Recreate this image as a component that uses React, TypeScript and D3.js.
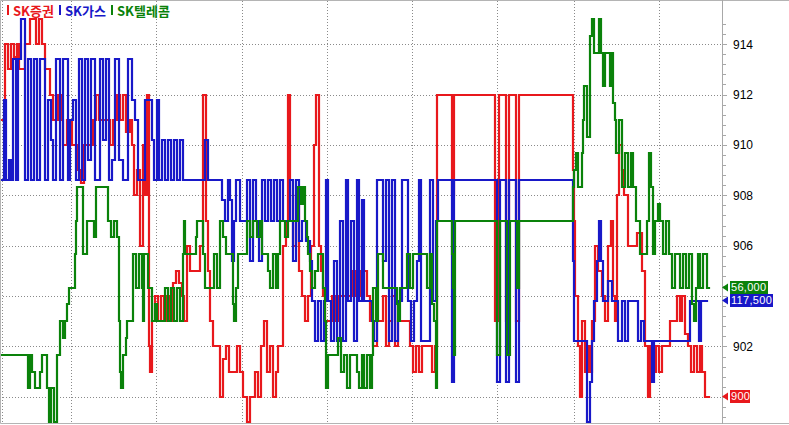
import { useEffect, useRef } from "react";
import * as d3 from "d3";

type Tick = [number, number];

// series legend
const seriesNames = ["SK증권", "SK가스", "SK텔레콤"];
const seriesColors = ["#e8181c", "#1818c8", "#0a820a"];

// vertical separators (time index)
const sessionMarks = [2, 70.5, 156, 242, 326.5, 411.5, 496.5, 574, 659];

// right axis labels (SK증권)
const axisLabels = [900, 902, 904, 906, 908, 910, 912, 914];

// SK증권 : [time, price]
const skSecurities: Tick[] = [
  [2, 911], [5, 914], [8, 913], [11, 914], [14, 913.5], [17, 914], [19, 913], [25, 914],
  [30, 915], [36, 914], [39, 915], [42, 914], [45, 913], [50, 912], [53, 911], [58, 912],
  [61, 911], [63, 910], [67, 911], [72, 910], [78, 909], [81, 908.5], [84, 910], [93, 911],
  [96, 912], [99, 911], [110, 910], [113, 911], [117, 912], [120, 911], [123, 912],
  [126, 910.5], [130, 911], [132, 910], [134, 908], [137, 909], [140, 906], [143, 910],
  [145, 908], [147, 912], [149, 902], [150, 901], [152, 903], [155, 904], [158, 903],
  [161, 904], [164, 903], [167, 904], [170, 903], [173, 904.5], [176, 905], [179, 904.5],
  [182, 904], [184, 903], [187, 906], [190, 905], [200, 906], [203, 912], [206, 907],
  [208, 905], [210, 903], [213, 902], [220, 900], [223, 901.5], [226, 902], [229, 901],
  [237, 902], [240, 901], [243, 900], [247, 899], [250, 900], [255, 901], [258, 900],
  [261, 902], [264, 903], [267, 901], [270, 902], [273, 900], [276, 901], [278, 902],
  [283, 906], [286, 907], [288, 912], [290, 907], [293, 906], [296, 908], [299, 905],
  [302, 904], [305, 903], [308, 904], [311, 906], [314, 910], [316, 912], [319, 906],
  [321, 905], [323, 904], [325, 903], [332, 904], [335, 903], [338, 904], [352, 905],
  [355, 904], [358, 905], [361, 904], [364, 905], [367, 904], [370, 903], [373, 902],
  [377, 903], [383, 904], [386, 902], [389, 903], [392, 904], [395, 902], [398, 903],
  [410, 902], [413, 901], [416, 902], [419, 901], [422, 902], [432, 901], [435, 902],
  [437, 912], [452, 908], [454, 912], [495, 903], [499, 912], [506, 903], [509, 912],
  [516, 903], [519, 912], [573, 909], [574, 907], [575, 904], [578, 902], [580, 900],
  [582, 903], [585, 901], [588, 902], [590, 901], [592, 903], [595, 906], [598, 905],
  [602, 904], [605, 903], [608, 906], [611, 907], [613, 904], [615, 903], [617, 908],
  [619, 910], [622, 909], [624, 908], [628, 906], [637, 906.5], [642, 905], [645, 902],
  [648, 900], [650, 902], [653, 901], [656, 902], [659, 901], [662, 902], [670, 903],
  [677, 904], [680, 903], [682, 904], [685, 902.5], [688, 902], [691, 901], [694, 902],
  [697, 901], [700, 902], [702, 901], [705, 900], [709, 900],
];

// SK가스 : [time, price]
const skGas: Tick[] = [
  [2, 119000], [4, 120000], [6, 119000], [9, 119250], [11, 119000], [13, 120500],
  [16, 119000], [18, 120500], [21, 121000], [25, 119000], [28, 120500], [31, 119000],
  [34, 120500], [37, 119000], [40, 120500], [45, 119000], [48, 120000], [51, 119500],
  [53, 119000], [56, 120500], [60, 119000], [63, 120500], [68, 119000], [70, 119750],
  [73, 120000], [76, 119000], [79, 120500], [82, 119000], [85, 120500], [88, 119250],
  [91, 120500], [95, 119000], [100, 120500], [103, 119500], [106, 120500], [109, 119000],
  [112, 119250], [115, 120500], [119, 119250], [123, 119000], [128, 120500], [132, 120000],
  [135, 119750], [138, 119000], [145, 120000], [152, 119500], [154, 119000], [157, 120000],
  [159, 119000], [162, 119500], [165, 119000], [168, 119500], [171, 119000], [174, 119500],
  [177, 119000], [180, 119500], [183, 119000], [205, 119500], [208, 119000], [222, 118750],
  [225, 118500], [228, 119000], [230, 118750], [232, 118000], [234, 118500], [236, 119000],
  [240, 118500], [247, 119000], [250, 118000], [253, 119000], [256, 118500], [259, 118000],
  [262, 119000], [265, 118500], [268, 119000], [271, 118500], [274, 119000], [277, 118500],
  [280, 119000], [283, 118500], [290, 119000], [293, 118000], [296, 119000], [299, 118250],
  [302, 118500], [306, 118250], [310, 118000], [312, 117500], [315, 117000], [318, 117500],
  [321, 117000], [324, 117500], [326, 119000], [328, 117500], [331, 117000], [334, 118000],
  [337, 117000], [340, 118500], [343, 117000], [346, 119000], [348, 117500], [351, 118500],
  [354, 117000], [357, 119000], [359, 117500], [362, 118750], [364, 117500], [372, 117250],
  [374, 117000], [377, 119000], [383, 118000], [386, 119000], [389, 117000], [392, 119000],
  [395, 117000], [398, 117500], [402, 119000], [408, 117500], [411, 117000], [414, 117500],
  [417, 118000], [419, 119000], [421, 117000], [430, 119000], [433, 117500], [436, 118500],
  [438, 119000], [452, 116500], [454, 119000], [497, 116500], [500, 119000], [506, 116500],
  [509, 119000], [516, 116500], [519, 119000], [573, 118000], [574, 117000], [587, 116000],
  [590, 116500], [592, 117000], [594, 117500], [597, 118000], [599, 118500], [601, 118000],
  [603, 117500], [608, 117750], [612, 117500], [618, 117000], [622, 117500], [625, 117000],
  [628, 117500], [638, 117000], [641, 117250], [644, 117000], [652, 116500], [654, 117000],
  [690, 117500], [699, 117000], [701, 117500], [707, 117500],
];

// SK텔레콤 : [time, price]
const skTelecom: Tick[] = [
  [2, 55800], [28, 55700], [30, 55800], [32, 55750], [35, 55700], [40, 55750], [42, 55800],
  [47, 55700], [49, 55600], [51, 55700], [54, 55600], [57, 55800], [60, 55900], [63, 55850],
  [65, 55900], [67, 55950], [69, 56000], [75, 56100], [76, 56200], [77, 56300], [83, 56100],
  [87, 56200], [94, 56150], [96, 56300], [108, 56200], [111, 56150], [114, 56200],
  [117, 56150], [119, 55900], [120, 55750], [121, 55700], [123, 55800], [126, 55850],
  [127, 55900], [133, 56100], [136, 56000], [139, 56100], [142, 56000], [143, 55900],
  [144, 56100], [148, 56000], [152, 55900], [155, 55950], [157, 55900], [165, 56000],
  [168, 55900], [171, 56000], [174, 55900], [177, 56000], [180, 55900], [183, 56100],
  [184, 56200], [185, 56100], [196, 56150], [197, 56200], [203, 56100], [205, 56000],
  [214, 56100], [217, 56000], [220, 56200], [223, 56150], [226, 56100], [233, 55950],
  [234, 55900], [236, 56000], [238, 56100], [247, 56200], [250, 56150], [253, 56200],
  [257, 56150], [260, 56200], [262, 56100], [268, 56050], [270, 56000], [273, 56100],
  [276, 56000], [278, 56100], [280, 56200], [285, 56150], [288, 56200], [298, 56300],
  [301, 56250], [303, 56300], [305, 56200], [307, 56150], [308, 56100], [310, 56050],
  [312, 56000], [315, 56050], [318, 56100], [323, 56000], [325, 55900], [326, 55700],
  [328, 55800], [338, 55850], [341, 55750], [344, 55800], [347, 55700], [350, 55800],
  [357, 55750], [359, 55700], [362, 55800], [364, 55700], [367, 55800], [370, 55700],
  [372, 55800], [373, 56000], [376, 55900], [378, 56100], [383, 56000], [397, 55950],
  [398, 55900], [400, 56000], [407, 56100], [410, 56000], [413, 56100], [427, 56000],
  [430, 56100], [432, 55950], [434, 55900], [436, 55700], [437, 56200], [452, 56100],
  [453, 56000], [454, 55800], [455, 56200], [497, 55800], [500, 56200], [507, 55800],
  [510, 56200], [517, 56000], [519, 56200], [573, 56300], [574, 56350], [576, 56400],
  [578, 56300], [582, 56400], [583, 56500], [584, 56600], [587, 56450], [590, 56750],
  [592, 56800], [594, 56700], [599, 56800], [601, 56700], [603, 56600], [605, 56700],
  [610, 56600], [612, 56700], [613, 56550], [615, 56500], [616, 56400], [619, 56500],
  [622, 56300], [625, 56400], [628, 56300], [631, 56400], [633, 56300], [636, 56200],
  [640, 56100], [647, 56200], [649, 56400], [651, 56300], [653, 56100], [655, 56200],
  [658, 56250], [660, 56200], [663, 56100], [666, 56200], [669, 56100], [672, 56000],
  [675, 56100], [680, 56000], [683, 56100], [686, 56000], [689, 56100], [692, 55950],
  [694, 55900], [696, 56000], [698, 56100], [700, 56000], [703, 56100], [707, 56000],
  [709, 56000],
];

const seriesData = [skSecurities, skGas, skTelecom];
const seriesDomains: [number, number][] = [
  [899, 915],
  [116000, 121000],
  [55600, 56800],
];

export default function App() {
  const svgRef = useRef<SVGSVGElement>(null);

  useEffect(() => {
    if (!svgRef.current) return;
    const svg = d3.select(svgRef.current);
    svg.selectAll("*").remove();

    const width = 789;
    const height = 425;
    const plotRight = 722;
    const plotBottom = 423;
    const top = 19;
    const bottom = 422;

    const x = d3.scaleLinear().domain([0, 720]).range([0, 720]);
    const yScales = seriesDomains.map((dom) =>
      d3.scaleLinear().domain(dom).range([bottom, top])
    );
    const yRed = yScales[0];

    // y position of each last-value tag
    const tagY = seriesData.map((data, i) => Math.round(yScales[i](data[data.length - 1][1])) - 1);

    svg.append("rect").attr("width", width).attr("height", height).attr("fill", "#fff");

    // grid
    const grid = svg.append("g").attr("stroke", "#8a8a8a").attr("stroke-dasharray", "1,2");
    grid
      .selectAll(".hg")
      .data(axisLabels)
      .enter()
      .append("line")
      .attr("x1", 0)
      .attr("x2", plotRight)
      .attr("y1", (d) => Math.round(yRed(d)) + 0.5)
      .attr("y2", (d) => Math.round(yRed(d)) + 0.5);
    grid
      .selectAll(".vg")
      .data(sessionMarks)
      .enter()
      .append("line")
      .attr("x1", (d) => Math.round(x(d)) + 0.5)
      .attr("x2", (d) => Math.round(x(d)) + 0.5)
      .attr("y1", 1)
      .attr("y2", plotBottom);

    // series (2px step lines, coordinates snapped to whole pixels)
    const line = d3.line<Tick>().curve(d3.curveStepAfter);
    seriesData.forEach((data, i) => {
      const y = yScales[i];
      svg
        .append("path")
        .attr(
          "d",
          line.x((d) => Math.round(x(d[0]))).y((d) => Math.round(y(d[1])))(data)
        )
        .attr("fill", "none")
        .attr("stroke", seriesColors[i])
        .attr("stroke-width", 2.2)
        .attr("stroke-linejoin", "miter")
        .attr("stroke-linecap", "square");
    });

    // frame (top, left, bottom) + axis line
    svg
      .append("path")
      .attr("d", `M${width},0.5H0.5V${plotBottom + 0.5}H${width}`)
      .attr("fill", "none")
      .attr("stroke", "#b4b4b4");
    svg
      .append("line")
      .attr("x1", plotRight + 0.5)
      .attr("x2", plotRight + 0.5)
      .attr("y1", 0)
      .attr("y2", plotBottom + 1)
      .attr("stroke", "#a8a8a8");

    // right axis ticks
    const minor = d3.range(0, 40).map((i) => 899.2 + i * 0.4).filter((v) => v < 915);
    svg
      .append("g")
      .selectAll("line")
      .data(minor)
      .enter()
      .append("line")
      .attr("x1", plotRight)
      .attr("x2", (d) => (Math.abs(d / 2 - Math.round(d / 2)) < 0.01 ? plotRight + 5 : plotRight + 4))
      .attr("y1", (d) => Math.round(yRed(d)) + 0.5)
      .attr("y2", (d) => Math.round(yRed(d)) + 0.5)
      .attr("stroke", "#a8a8a8");

    // axis labels hidden where a value tag covers them
    svg
      .append("g")
      .selectAll("text")
      .data(axisLabels.filter((v) => tagY.every((ty) => Math.abs(yRed(v) - ty) > 9)))
      .enter()
      .append("text")
      .attr("x", 733)
      .attr("y", (d) => yRed(d))
      .attr("dy", "0.36em")
      .attr("font-family", "Liberation Sans, Arial, sans-serif")
      .attr("font-size", 12)
      .attr("fill", "#000")
      .text((d) => d);

    // last-value tags
    const fmt = d3.format(",");
    const tagWidths = [20, 43, 38];
    seriesData.forEach((data, i) => {
      const last = data[data.length - 1][1];
      const cy = tagY[i];
      const g = svg.append("g");
      g.append("path")
        .attr("d", `M${plotRight},${cy + 0.5}L${plotRight + 6},${cy - 3.5}L${plotRight + 6},${cy + 4.5}Z`)
        .attr("fill", seriesColors[i]);
      g.append("rect")
        .attr("x", 730)
        .attr("y", cy - 6)
        .attr("width", tagWidths[i])
        .attr("height", 13)
        .attr("fill", seriesColors[i]);
      g.append("text")
        .attr("x", 731)
        .attr("y", cy + 0.5)
        .attr("dy", "0.36em")
        .attr("font-family", "Liberation Sans, Arial, sans-serif")
        .attr("font-size", 11)
        .attr("letter-spacing", 0.3)
        .attr("fill", "#fff")
        .text(fmt(last));
    });

    // legend
    const legendX = [7, 59, 111];
    seriesNames.forEach((name, i) => {
      svg
        .append("rect")
        .attr("x", legendX[i])
        .attr("y", 5)
        .attr("width", 2)
        .attr("height", 10)
        .attr("fill", seriesColors[i]);
      svg
        .append("text")
        .attr("x", legendX[i] + 6)
        .attr("y", 15.5)
        .attr("font-family", "Noto Sans CJK KR, sans-serif")
        .attr("font-weight", "bold")
        .attr("font-size", 13)
        .attr("fill", seriesColors[i])
        .text(name);
    });
  }, []);

  return (
    <svg
      ref={svgRef}
      width={789}
      height={425}
      style={{ position: "absolute", left: 0, top: 0, display: "block" }}
    />
  );
}
